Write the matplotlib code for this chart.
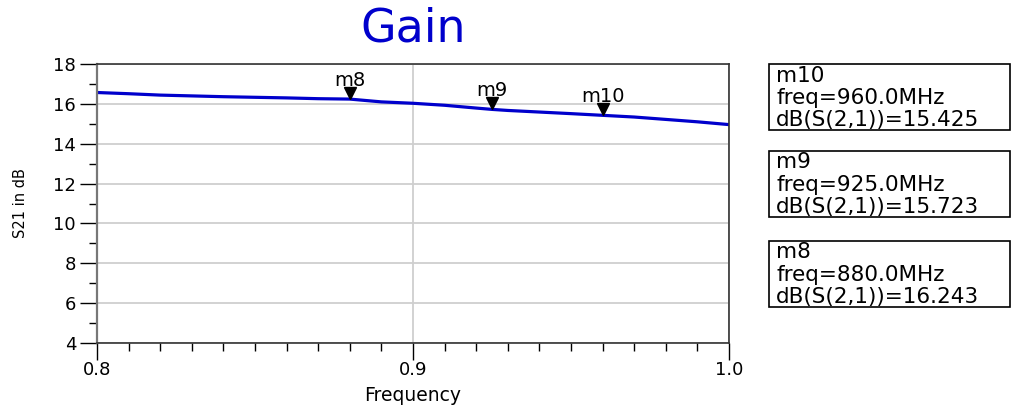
import matplotlib
matplotlib.use('Agg')
import matplotlib.pyplot as plt
import matplotlib.transforms as mtransforms
from matplotlib.patches import Rectangle
from matplotlib.ticker import MultipleLocator

# S21 gain (GHz, dB)
freq = [0.80, 0.81, 0.82, 0.83, 0.84, 0.85, 0.86, 0.87, 0.88, 0.89, 0.90,
        0.91, 0.92, 0.925, 0.93, 0.94, 0.95, 0.96, 0.97, 0.98, 0.99, 1.00]
gain = [16.57, 16.51, 16.44, 16.40, 16.36, 16.33, 16.30, 16.26, 16.24, 16.10, 16.03,
        15.93, 15.79, 15.723, 15.67, 15.59, 15.51, 15.425, 15.34, 15.22, 15.10, 14.96]

# markers
markerNames = ['m8', 'm9', 'm10']
markerFreqs = [0.880, 0.925, 0.960]
markerVals = [16.243, 15.723, 15.425]

xTicks = [0.8, 0.9, 1.0]
yTicks = [4, 6, 8, 10, 12, 14, 16, 18]

BLUE = '#0000CC'

fig = plt.figure(figsize=(10.11, 4.08), dpi=100)
ax = fig.add_axes([0.0959, 0.1593, 0.6251, 0.6838])

ax.plot(freq, gain, color=BLUE, lw=2.3, solid_joinstyle='miter')

# triangles sit on the line with their tip touching it
shift = mtransforms.ScaledTranslation(0, 4.5 / 72, fig.dpi_scale_trans)
ax.plot(markerFreqs, markerVals, linestyle='none', marker='v', markersize=9,
        color='black', transform=ax.transData + shift)
for name, f, v in zip(markerNames, markerFreqs, markerVals):
    ax.annotate(name, (f, v), xytext=(0, 9.5), textcoords='offset points',
                ha='center', va='baseline', fontsize=14)

ax.set_xlim(0.8, 1.0)
ax.set_ylim(4, 18)
ax.set_xticks(xTicks)
ax.set_xticklabels(['%.1f' % t for t in xTicks])
ax.set_yticks(yTicks)
ax.xaxis.set_minor_locator(MultipleLocator(0.01))
ax.yaxis.set_minor_locator(MultipleLocator(1))
ax.tick_params(which='major', direction='out', length=12, width=1.0, labelsize=13, pad=1)
ax.tick_params(which='minor', direction='out', length=5.5, width=1.0)
ax.tick_params(axis='y', which='major', pad=3)

ax.grid(True, which='major', color='#cfcfcf', lw=1.3)
ax.set_axisbelow(True)
for side in ['top', 'right', 'bottom']:
    ax.spines[side].set_color('#333333')
    ax.spines[side].set_linewidth(1.2)
ax.spines['left'].set_color('#777777')
ax.spines['left'].set_linewidth(1.6)

ax.set_xlabel('Frequency', fontsize=13.5, labelpad=5)
ax.set_ylabel('S21 in dB', fontsize=10.5, labelpad=18)

fig.text(0.4085, 0.929, 'Gain', color=BLUE, fontsize=33, ha='center', va='center')

# marker readout boxes, top to bottom: m10, m9, m8
boxBottoms = [0.6814, 0.4689, 0.2483]
for i, (name, f, v) in enumerate(zip(markerNames[::-1], markerFreqs[::-1], markerVals[::-1])):
    b = boxBottoms[i]
    fig.patches.append(Rectangle((0.7606, b), 0.2384, 0.1618, transform=fig.transFigure,
                                 fill=False, edgecolor='black', lw=1.2))
    txt = '%s\nfreq=%.1fMHz\ndB(S(2,1))=%.3f' % (name, f * 1000, v)
    fig.text(0.7676, b + 0.1618 - 0.004, txt, fontsize=15.5, ha='left', va='top',
             linespacing=1.15)

fig.savefig('out.png', dpi=100)
